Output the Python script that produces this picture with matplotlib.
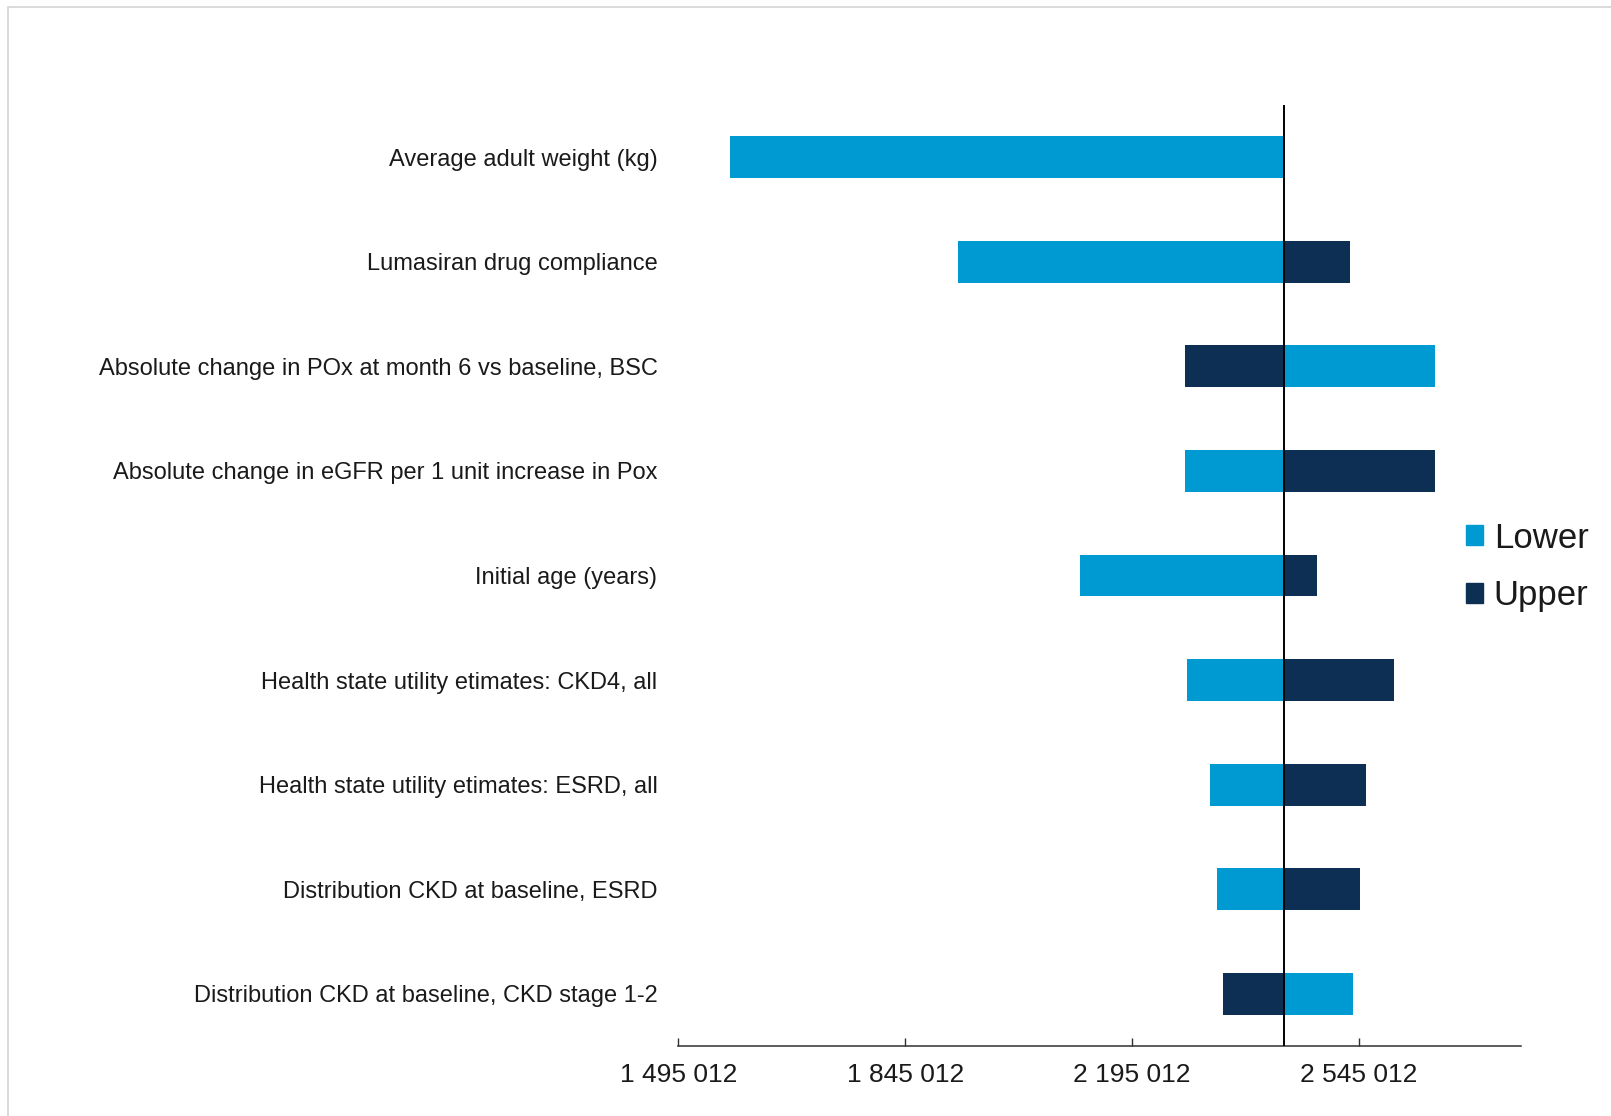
import matplotlib
matplotlib.use("Agg")
import matplotlib.pyplot as plt
from matplotlib.patches import Patch, Rectangle

plt.rcParams['font.family'] = ['Liberation Sans', 'DejaVu Sans']

# Tornado diagram data: model outcome at lower / upper parameter bounds
parameters = [
    "Average adult weight (kg)",
    "Lumasiran drug compliance",
    "Absolute change in POx at month 6 vs baseline, BSC",
    "Absolute change in eGFR per 1 unit increase in Pox",
    "Initial age (years)",
    "Health state utility etimates: CKD4, all",
    "Health state utility etimates: ESRD, all",
    "Distribution CKD at baseline, ESRD",
    "Distribution CKD at baseline, CKD stage 1-2",
]
base_value = 2_429_400
lower_values = [1_574_000, 1_926_300, 2_662_200, 2_277_400, 2_114_400,
                2_280_400, 2_315_300, 2_325_600, 2_535_800]
upper_values = [2_429_400, 2_531_200, 2_277_400, 2_662_200, 2_480_900,
                2_599_000, 2_555_800, 2_546_600, 2_335_300]
x_ticks = [1_495_012, 1_845_012, 2_195_012, 2_545_012]
x_limits = (1_495_012, 2_795_012)

color_lower = "#009AD2"
color_upper = "#0C2F53"
text_color = "#1a1a1a"

fig = plt.figure(figsize=(16.11, 11.16), dpi=100)
fig.patches.append(Rectangle((8 / 1611, -0.1), 1.2, 1.1 - 7 / 1116,
                             transform=fig.transFigure, fill=False,
                             edgecolor="#d4d4d4", linewidth=1.2))

ax = fig.add_axes([678.3 / 1611, 1 - 1046 / 1116,
                   (1521 - 678.3) / 1611, (1046 - 105) / 1116])

ypos = list(range(len(parameters)))
bar_h = 0.4
ax.barh(ypos, [v - base_value for v in lower_values], left=base_value,
        height=bar_h, color=color_lower, label="Lower")
ax.barh(ypos, [v - base_value for v in upper_values], left=base_value,
        height=bar_h, color=color_upper, label="Upper")

ax.axvline(base_value, color="black", linewidth=1.4, zorder=3)

ax.set_xlim(*x_limits)
ax.set_ylim(len(parameters) - 0.5, -0.5)

ax.set_yticks(ypos)
ax.set_yticklabels(parameters, fontsize=17, color=text_color)
ax.tick_params(axis="y", length=0, pad=15)

ax.set_xticks(x_ticks)
ax.set_xticklabels([f"{t:,}".replace(",", " ") for t in x_ticks],
                   fontsize=19, color=text_color)
ax.tick_params(axis="x", direction="in", length=5.8, width=1.0,
               color="#303030", pad=12)

for side in ("top", "right", "left"):
    ax.spines[side].set_visible(False)
ax.spines["bottom"].set_color("#303030")
ax.spines["bottom"].set_linewidth(1.1)

handles = [Patch(color=color_lower), Patch(color=color_upper)]
fig.legend(handles, ["Lower", "Upper"], loc="center left",
           bbox_to_anchor=(1466 / 1611, 1 - 567 / 1116),
           frameon=False, fontsize=25, handlelength=0.5, handleheight=0.5,
           handletextpad=0.3, labelspacing=0.72, borderpad=0,
           borderaxespad=0, labelcolor=text_color)

fig.savefig("out.png", dpi=100)
